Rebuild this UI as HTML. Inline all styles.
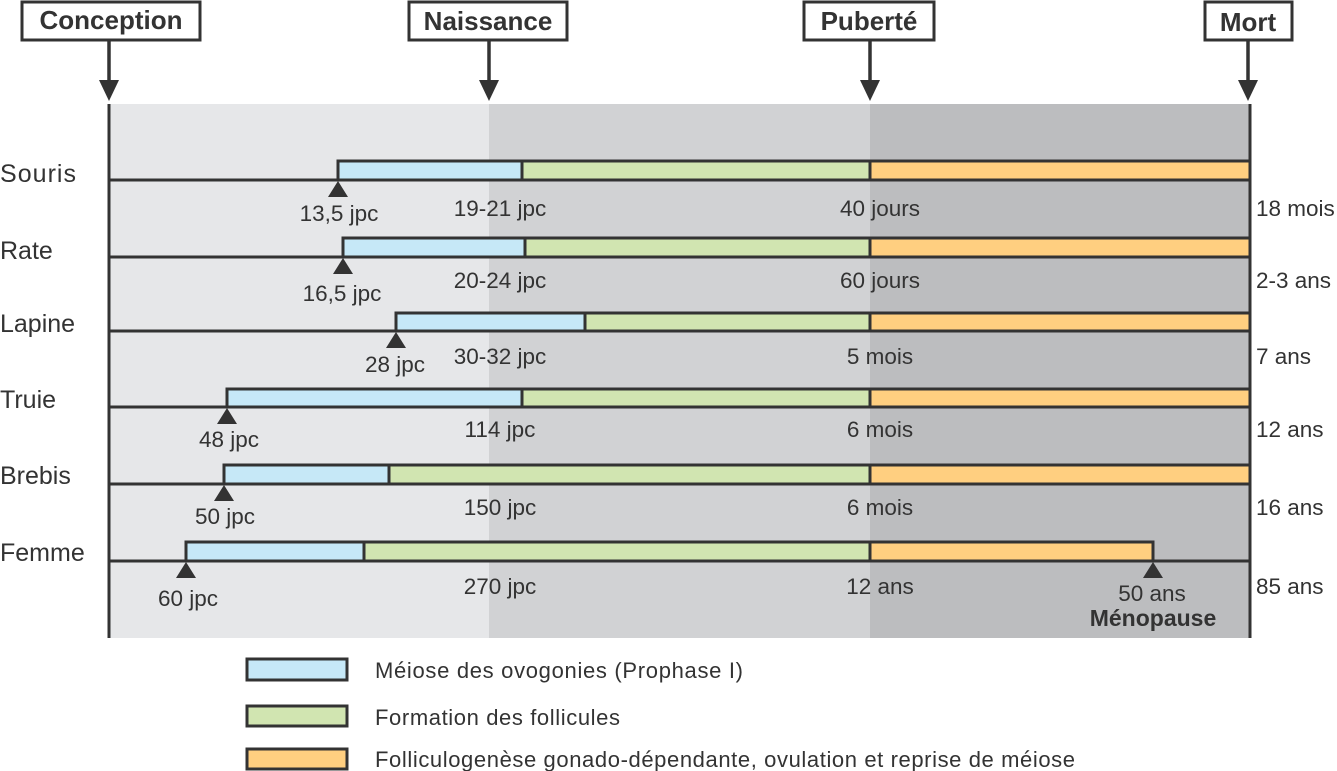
<!DOCTYPE html>
<html><head><meta charset="utf-8"><style>
html,body{margin:0;padding:0;background:#fff}
svg{display:block}
text{font-family:"Liberation Sans",Arial,sans-serif;fill:#333}
</style></head><body>
<svg width="1337" height="771" viewBox="0 0 1337 771" xmlns="http://www.w3.org/2000/svg">
<rect x="109" y="104" width="380" height="534" fill="#e6e7e9"/>
<rect x="489" y="104" width="381" height="534" fill="#d1d2d4"/>
<rect x="870" y="104" width="380" height="534" fill="#bcbdbf"/>
<g stroke="#333" stroke-width="3">
<line x1="109" y1="104" x2="109" y2="638"/>
<line x1="1250" y1="104" x2="1250" y2="638"/>
</g>
<g stroke="#333" stroke-width="3" fill="#fff">
<rect x="22" y="2" width="178" height="38"/>
<rect x="409" y="2" width="158" height="38"/>
<rect x="804" y="2" width="130" height="38"/>
<rect x="1205" y="2" width="87" height="38"/>
</g>
<g font-weight="bold" font-size="26" text-anchor="middle">
<text x="111" y="29">Conception</text>
<text x="488" y="30">Naissance</text>
<text x="869" y="30">Puberté</text>
<text x="1248" y="31">Mort</text>
</g>
<g stroke="#333" stroke-width="3.5">
<line x1="109" y1="40" x2="109" y2="82"/>
<line x1="489" y1="40" x2="489" y2="82"/>
<line x1="870" y1="40" x2="870" y2="82"/>
<line x1="1248" y1="40" x2="1248" y2="82"/>
</g>
<g fill="#333">
<polygon points="99,80 119,80 109,101"/>
<polygon points="479,80 499,80 489,101"/>
<polygon points="860,80 880,80 870,101"/>
<polygon points="1238,80 1258,80 1248,101"/>
</g>
<g stroke="#333" stroke-width="3">
<line x1="109" y1="180" x2="1250" y2="180"/>
<rect x="338" y="161" width="184" height="19" fill="#c6e8f7"/>
<rect x="522" y="161" width="348" height="19" fill="#d1e5b1"/>
<rect x="870" y="161" width="380" height="19" fill="#ffcf80"/>
<line x1="109" y1="257" x2="1250" y2="257"/>
<rect x="343" y="238" width="182" height="19" fill="#c6e8f7"/>
<rect x="525" y="238" width="345" height="19" fill="#d1e5b1"/>
<rect x="870" y="238" width="380" height="19" fill="#ffcf80"/>
<line x1="109" y1="331" x2="1250" y2="331"/>
<rect x="396" y="313" width="189" height="18" fill="#c6e8f7"/>
<rect x="585" y="313" width="285" height="18" fill="#d1e5b1"/>
<rect x="870" y="313" width="380" height="18" fill="#ffcf80"/>
<line x1="109" y1="407" x2="1250" y2="407"/>
<rect x="227" y="389" width="295" height="18" fill="#c6e8f7"/>
<rect x="522" y="389" width="348" height="18" fill="#d1e5b1"/>
<rect x="870" y="389" width="380" height="18" fill="#ffcf80"/>
<line x1="109" y1="484" x2="1250" y2="484"/>
<rect x="224" y="465" width="165" height="19" fill="#c6e8f7"/>
<rect x="389" y="465" width="481" height="19" fill="#d1e5b1"/>
<rect x="870" y="465" width="380" height="19" fill="#ffcf80"/>
<line x1="109" y1="561" x2="1250" y2="561"/>
<rect x="186" y="542" width="178" height="19" fill="#c6e8f7"/>
<rect x="364" y="542" width="506" height="19" fill="#d1e5b1"/>
<rect x="870" y="542" width="283" height="19" fill="#ffcf80"/>
</g>
<g fill="#333">
<polygon points="338,181 328,197 348,197"/>
<polygon points="343,258 333,274 353,274"/>
<polygon points="396,332 386,348 406,348"/>
<polygon points="227,408 217,424 237,424"/>
<polygon points="224,485 214,501 234,501"/>
<polygon points="186,562 176,578 196,578"/>
<polygon points="1153,562 1143,578 1163,578"/>
</g>
<g font-size="25">
<text x="0" y="182" textLength="76">Souris</text>
<text x="0" y="259">Rate</text>
<text x="0" y="332">Lapine</text>
<text x="0" y="408">Truie</text>
<text x="0" y="484">Brebis</text>
<text x="0" y="561">Femme</text>
</g>
<g font-size="22.5" text-anchor="middle">
<text x="339" y="221">13,5 jpc</text>
<text x="500" y="216">19-21 jpc</text>
<text x="880" y="216">40 jours</text>
<text x="342" y="301">16,5 jpc</text>
<text x="500" y="288">20-24 jpc</text>
<text x="880" y="288">60 jours</text>
<text x="395" y="372">28 jpc</text>
<text x="500" y="364">30-32 jpc</text>
<text x="880" y="364">5 mois</text>
<text x="229" y="447">48 jpc</text>
<text x="500" y="437">114 jpc</text>
<text x="880" y="437">6 mois</text>
<text x="225" y="524">50 jpc</text>
<text x="500" y="515">150 jpc</text>
<text x="880" y="515">6 mois</text>
<text x="188" y="606">60 jpc</text>
<text x="500" y="594">270 jpc</text>
<text x="880" y="594">12 ans</text>
<text x="1152" y="601">50 ans</text>
<text x="1153" y="626" font-weight="bold" font-size="23">Ménopause</text>
</g>
<g font-size="22.5">
<text x="1256" y="216">18 mois</text>
<text x="1256" y="288">2-3 ans</text>
<text x="1256" y="364">7 ans</text>
<text x="1256" y="437">12 ans</text>
<text x="1256" y="515">16 ans</text>
<text x="1256" y="594">85 ans</text>
</g>
<g stroke="#333" stroke-width="3">
<rect x="247" y="659" width="100" height="21" fill="#c6e8f7"/>
<rect x="247" y="706" width="100" height="20" fill="#d1e5b1"/>
<rect x="247" y="749" width="100" height="20" fill="#ffcf80"/>
</g>
<g font-size="22">
<text x="375" y="678" textLength="368">Méiose des ovogonies (Prophase I)</text>
<text x="375" y="725" textLength="245">Formation des follicules</text>
<text x="375" y="767" textLength="700">Folliculogenèse gonado-dépendante, ovulation et reprise de méiose</text>
</g>
</svg>
</body></html>
